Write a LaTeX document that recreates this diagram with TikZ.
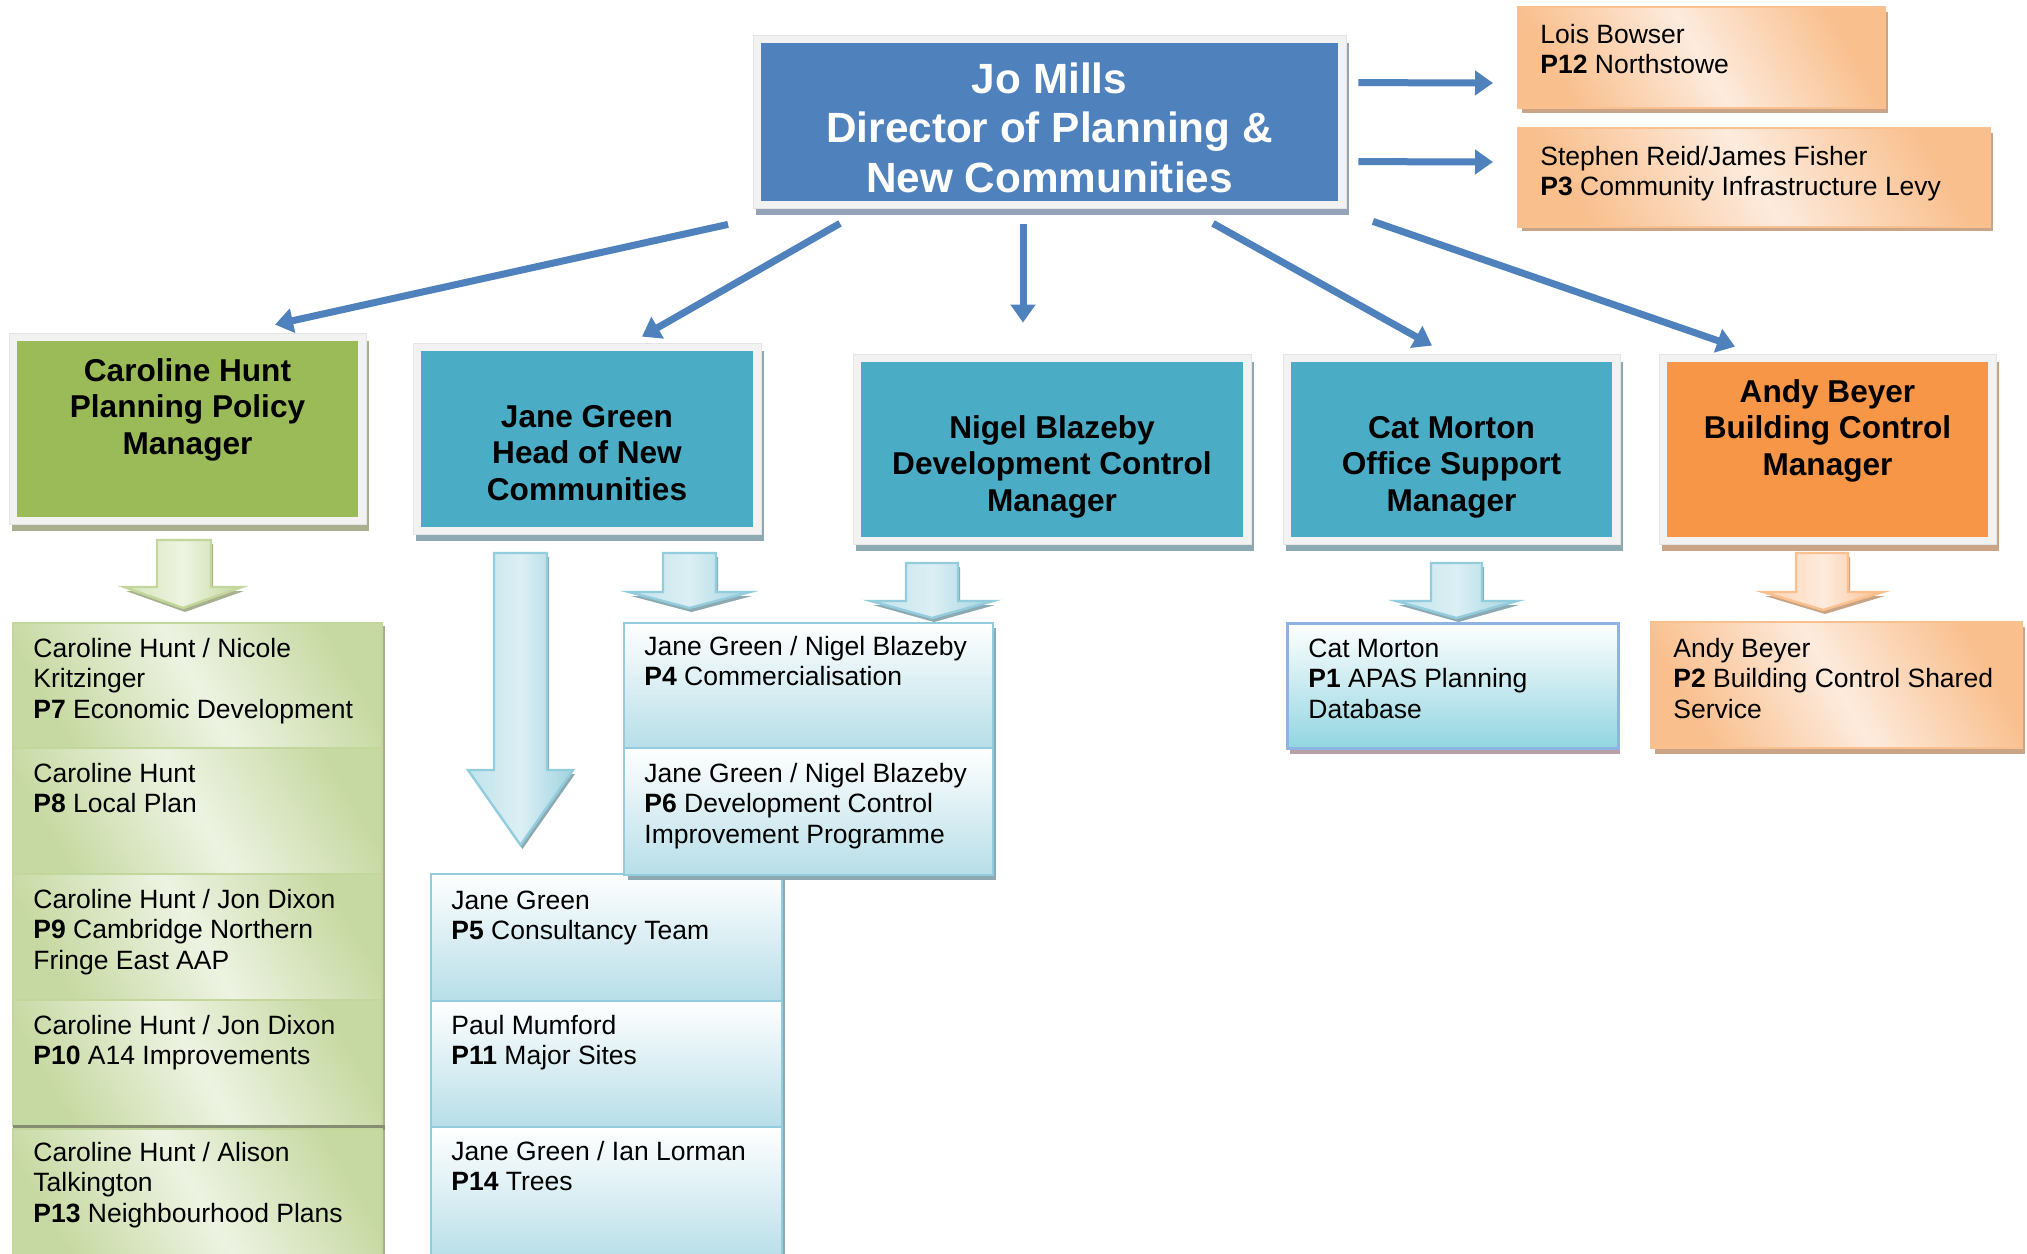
\documentclass[tikz,border=0pt]{standalone}
\usepackage{fontspec}
\setmainfont{Liberation Sans}
\usetikzlibrary{fit,calc,arrows.meta}

\definecolor{joblue}{HTML}{4F81BD}
\definecolor{tealhd}{HTML}{4BACC6}
\definecolor{grnhd}{HTML}{9BBB59}
\definecolor{orhd}{HTML}{F79646}
\definecolor{framegray}{HTML}{F2F2F2}
\definecolor{framedge}{HTML}{E4E4E4}
\definecolor{shJo}{HTML}{95A3B6}
\definecolor{shTeal}{HTML}{8DA9B1}
\definecolor{shGrn}{HTML}{A8B090}
\definecolor{shOr}{HTML}{C9A487}
\definecolor{shPink}{HTML}{B7A0A6}
\definecolor{tlBorder}{HTML}{93CDDD}
\definecolor{tlDark}{HTML}{B7DEE8}
\definecolor{tlArL}{HTML}{DCEFF4}
\definecolor{tlArA}{HTML}{BFE3EB}
\definecolor{tlArB}{HTML}{9FD3E0}
\definecolor{grBorder}{HTML}{C3D69B}
\definecolor{grDark}{HTML}{C7D9A2}
\definecolor{grLight}{HTML}{EDF3E2}
\definecolor{orBorder}{HTML}{FAC090}
\definecolor{orDark}{HTML}{F9BF8D}
\definecolor{orLight}{HTML}{FDEBDD}
\definecolor{cyanB}{HTML}{92D5E1}
\definecolor{blueB}{HTML}{8EB4E3}
\definecolor{grArA}{HTML}{D5E3B9}
\definecolor{grArB}{HTML}{C3D69B}
\definecolor{grArL}{HTML}{EEF4E2}
\definecolor{orArA}{HTML}{FCD3B0}
\definecolor{orArB}{HTML}{FAC090}
\definecolor{orArL}{HTML}{FDEBDD}

\newcommand{\mystrut}{\rule{0pt}{10pt}}
\newcommand{\hdstrut}{\rule{0pt}{12pt}}
\newcommand{\jostrut}{\rule{0pt}{16pt}}

% header box: name, x1, y1, x2, y2, fill, shadow
\newcommand{\hdrbox}[7]{%
  \fill[#7] ({#2-5},{#3}) rectangle ({#4+11},{#5+14});
  \fill[framegray, draw=framedge, line width=0.4pt] ({#2-8},{#3-8}) rectangle ({#4+8},{#5+7});
  \node[fit={(#2,#3) (#4,#5)}, inner sep=0pt, fill=#6] (#1) {};
}
% list box: name, x1, y1, x2, y2, style
\newcommand{\lbox}[6]{%
  \node[fit={(#2,#3) (#4,#5)}, inner sep=0pt, outer sep=0pt, #6] (#1) {};
}
% hollow arrow: sx1, sx2, top, headY, hx1, hx2, tipY, style, shadow colour
\newcommand{\harrow}[9]{%
  \fill[#9, shift={(2,4)}] (#1,#3) -- (#2,#3) -- (#2,#4) -- (#6,#4) -- ({(#5+#6)/2},#7) -- (#5,#4) -- (#1,#4) -- cycle;
  \path[#8] (#1,#3) -- (#2,#3) -- (#2,#4) -- (#6,#4) -- ({(#5+#6)/2},#7) -- (#5,#4) -- (#1,#4) -- cycle;
}

\tikzset{
  conn/.style={draw=joblue, line width=3.5pt, -{Triangle[width=12pt,length=9pt]}},
  boxtxt/.style={inner sep=0pt, anchor=north west, align=left, text=black,
    font=\fontsize{13.25pt}{15.25pt}\selectfont},
  hdrtxt/.style={inner sep=0pt, anchor=north, align=center, text=black,
    font=\bfseries\fontsize{15.8pt}{18.25pt}\selectfont},
  jotxt/.style={inner sep=0pt, anchor=north, align=center, text=white,
    font=\bfseries\fontsize{21.15pt}{24.75pt}\selectfont},
  tealitem/.style={draw=tlBorder, line width=1.2pt, top color=white, bottom color=tlDark},
  greenitem/.style={draw=grBorder, line width=1pt, left color=grDark, right color=grDark,
    middle color=grLight, shading angle=120},
  orangeitem/.style={draw=orBorder, line width=1pt, left color=orDark, right color=orDark,
    middle color=orLight, shading angle=120},
  cyanitem/.style={draw=blueB, line width=1.5pt, top color=white, bottom color=cyanB},
  tealarrow/.style={draw=tlBorder, line width=1.2pt, left color=tlArA, right color=tlArB, middle color=tlArL},
  greenarrow/.style={draw=grBorder, line width=1.2pt, left color=grArA, right color=grArB, middle color=grArL},
  orangearrow/.style={draw=orBorder, line width=1.2pt, left color=orArA, right color=orArB, middle color=orArL},
}

\begin{document}
\begin{tikzpicture}[x=0.5pt, y=-0.5pt]
\fill[white] (0,0) rectangle (2027,1253);
\useasboundingbox (0,0) rectangle (2027,1253);

% ---------- header boxes ----------
\hdrbox{jo}{761}{43}{1338}{201}{joblue}{shJo}
\node[jotxt] (jo-t) at ($(jo.north)+(0,18)$) {\jostrut Jo Mills\\Director of Planning \&\\New Communities};

\hdrbox{car}{17}{341}{358}{517}{grnhd}{shGrn}
\node[hdrtxt] (car-t) at ($(car.north)+(0,16)$) {\hdstrut Caroline Hunt\\Planning Policy\\Manager};

\hdrbox{jane}{421}{351}{753}{527}{tealhd}{shTeal}
\node[hdrtxt] (jane-t) at ($(jane.north)+(0,52)$) {\hdstrut Jane Green\\Head of New\\Communities};

\hdrbox{nigel}{861}{362}{1243}{537}{tealhd}{shTeal}
\node[hdrtxt] (nigel-t) at ($(nigel.north)+(0,52)$) {\hdstrut Nigel Blazeby\\Development Control\\Manager};

\hdrbox{cat}{1291}{362}{1612}{537}{tealhd}{shTeal}
\node[hdrtxt] (cat-t) at ($(cat.north)+(0,52)$) {\hdstrut Cat Morton\\Office Support\\Manager};

\hdrbox{andy}{1667}{362}{1988}{537}{orhd}{shOr}
\node[hdrtxt] (andy-t) at ($(andy.north)+(0,16)$) {\hdstrut Andy Beyer\\Building Control\\Manager};

% ---------- top-right orange boxes ----------
\fill[shOr] (1522,12) rectangle (1888,113);
\lbox{lois}{1518}{7}{1885}{108}{orangeitem}
\node[boxtxt] (lois-t) at ($(lois.north west)+(22,16)$) {\mystrut Lois Bowser\\\textbf{P12} Northstowe};

\fill[shOr] (1522,133) rectangle (1993,231);
\lbox{steve}{1518}{128}{1990}{227}{orangeitem}
\node[boxtxt] (steve-t) at ($(steve.north west)+(22,17)$) {\mystrut Stephen Reid/James Fisher\\\textbf{P3} Community Infrastructure Levy};

% ---------- connectors ----------
\draw[conn] ($(jo.north east)+(20,40)$) -- ($(lois.west)+(-25,25.5)$);
\draw[conn] ($(jo.north east)+(20,119)$) -- ($(steve.west)+(-25,-15.5)$);
\draw[conn] ($(jo.south)+(-321.5,23)$) -- ($(car.north)+(87.5,-16)$);
\draw[conn] ($(jo.south)+(-209.5,22)$) -- ($(jane.north)+(55,-14)$);
\draw[conn] ($(jo.south)+(-26.5,23)$) -- ($(nigel.north)+(-29,-39)$);
\draw[conn] ($(jo.south)+(163.5,22)$) -- ($(cat.north)+(-19.5,-16)$);
\draw[conn] ($(jo.south)+(323.5,20)$) -- ($(andy.north)+(-92.5,-15)$);

% ---------- hollow arrows ----------
\harrow{157}{211}{540}{587}{124}{242}{608}{greenarrow}{shGrn}
\harrow{494}{547}{553}{770}{468}{573}{845}{tealarrow}{shTeal}
\harrow{663}{716}{553}{592}{629}{750}{608}{tealarrow}{shTeal}
\harrow{906}{958}{563}{601}{871}{993}{618}{tealarrow}{shTeal}
\harrow{1431}{1482}{563}{601}{1396}{1517}{618}{tealarrow}{shTeal}
\harrow{1796}{1848}{553}{592}{1763}{1883}{610}{orangearrow}{shOr}

% ---------- Caroline Hunt list ----------
\fill[shGrn] (16,626) rectangle (385,1260);
\lbox{p7}{13}{623}{382}{748}{greenitem}
\node[boxtxt] (p7-t) at ($(p7.north west)+(20,14)$) {\mystrut Caroline Hunt / Nicole\\Kritzinger\\\textbf{P7} Economic Development};
\lbox{p8}{13}{748}{382}{874}{greenitem}
\node[boxtxt] (p8-t) at ($(p8.north west)+(20,14)$) {\mystrut Caroline Hunt\\\textbf{P8} Local Plan};
\lbox{p9}{13}{874}{382}{1000}{greenitem}
\node[boxtxt] (p9-t) at ($(p9.north west)+(20,14)$) {\mystrut Caroline Hunt / Jon Dixon\\\textbf{P9} Cambridge Northern\\Fringe East AAP};
\lbox{p10}{13}{1000}{382}{1126}{greenitem}
\node[boxtxt] (p10-t) at ($(p10.north west)+(20,14)$) {\mystrut Caroline Hunt / Jon Dixon\\\textbf{P10} A14 Improvements};
\fill[shGrn!80!black] (13,1125) rectangle (385,1130);
\lbox{p13}{13}{1129}{382}{1262}{greenitem}
\node[boxtxt] (p13-t) at ($(p13.north west)+(20,12)$) {\mystrut Caroline Hunt / Alison\\Talkington\\\textbf{P13} Neighbourhood Plans};

% ---------- Jane Green list ----------
\fill[shTeal] (434,878) rectangle (785,1260);
\lbox{p5}{431}{874}{782}{1001}{tealitem}
\node[boxtxt] (p5-t) at ($(p5.north west)+(20,15)$) {\mystrut Jane Green\\\textbf{P5} Consultancy Team};
\lbox{p11}{431}{1001}{782}{1127}{tealitem}
\node[boxtxt] (p11-t) at ($(p11.north west)+(20,13)$) {\mystrut Paul Mumford\\\textbf{P11} Major Sites};
\lbox{p14}{431}{1127}{782}{1262}{tealitem}
\node[boxtxt] (p14-t) at ($(p14.north west)+(20,13)$) {\mystrut Jane Green / Ian Lorman\\\textbf{P14} Trees};

% ---------- P4 / P6 ----------
\fill[shTeal] (628,628) rectangle (996,880);
\lbox{p4}{624}{623}{993}{748}{tealitem}
\node[boxtxt] (p4-t) at ($(p4.north west)+(20,12)$) {\mystrut Jane Green / Nigel Blazeby\\\textbf{P4} Commercialisation};
\lbox{p6}{624}{748}{993}{875}{tealitem}
\node[boxtxt] (p6-t) at ($(p6.north west)+(20,14)$) {\mystrut Jane Green / Nigel Blazeby\\\textbf{P6} Development Control\\Improvement Programme};

% ---------- Cat Morton P1 ----------
\fill[shPink] (1290,628) rectangle (1620,754);
\lbox{p1}{1287}{623}{1618}{748}{cyanitem}
\node[boxtxt] (p1-t) at ($(p1.north west)+(21,14)$) {\mystrut Cat Morton\\\textbf{P1} APAS Planning\\Database};

% ---------- Andy Beyer P2 ----------
\fill[shOr] (1655,627) rectangle (2025,754);
\lbox{p2}{1651}{622}{2022}{748}{orangeitem}
\node[boxtxt] (p2-t) at ($(p2.north west)+(22,15)$) {\mystrut Andy Beyer\\\textbf{P2} Building Control Shared\\Service};

\end{tikzpicture}
\end{document}
